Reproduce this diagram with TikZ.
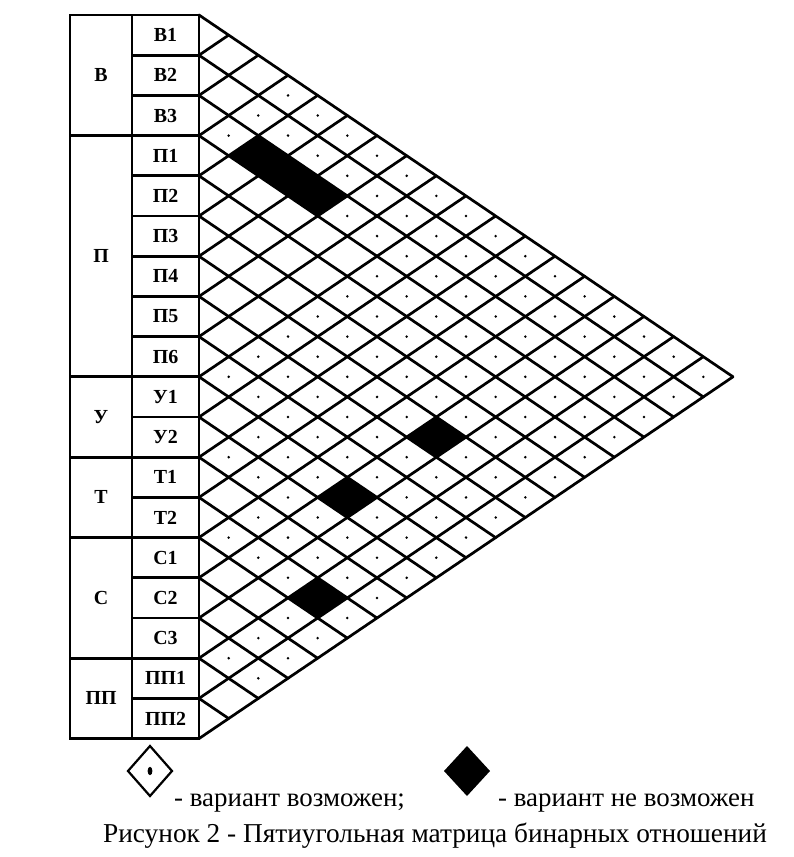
\documentclass[tikz,border=0pt]{standalone}
\usepackage{fontspec}
\setmainfont{Liberation Serif}
\begin{document}
\begin{tikzpicture}[x=1bp,y=-1bp,
  gridline/.style={line width=2.7bp, line cap=round},
  tabline/.style={line width=2.7bp},
  itemlab/.style={font=\fontsize{20}{20}\selectfont\bfseries, inner sep=0pt},
  grouplab/.style={font=\fontsize{20}{20}\selectfont\bfseries, inner sep=0pt},
  legtext/.style={font=\fontsize{27}{27}\selectfont, inner sep=0pt, anchor=base west},
  captext/.style={font=\fontsize{27.4}{27.4}\selectfont, inner sep=0pt, anchor=base west}]
\useasboundingbox (0,0) rectangle (794,857);
\def\grp{{0,0,0,1,1,1,1,1,1,2,2,3,3,4,4,4,5,5}}
% black (impossible) cells
\foreach \i/\j in {2/4,2/5,2/6,6/14,9/14,12/16}
  \fill ({199+(\j-\i)*29.667},{15+(\i+\j+1)*20.1}) +(-29.667,0) -- +(0,-20.1) -- +(29.667,0) -- +(0,20.1) -- cycle;
% dots (possible) cells
\foreach \i in {0,...,16} {
  \pgfmathtruncatemacro\js{\i+1}
  \foreach \j in {\js,...,17} {
    \pgfmathtruncatemacro\dif{\grp[\i]!=\grp[\j]}
    \ifnum\dif=1
      \fill ({199+(\j-\i)*29.667},{15+(\i+\j+1)*20.1}) circle (1.4bp);
    \fi
  }
}
% grid lines
\foreach \k in {0,...,18} {
  \coordinate (b\k) at (199,{15+\k*40.2});
  \draw[gridline] (b\k) -- ++({(18-\k)*29.667},{(18-\k)*20.1});
  \draw[gridline] (b\k) -- ++({\k*29.667},{-\k*20.1});
}
% table
\draw[tabline] (70,15) rectangle (199,738.6);
\draw[tabline] (132,15) -- (132,738.6);
\foreach \k in {1,...,17} \draw[tabline] (132,{15+\k*40.2}) -- (199,{15+\k*40.2});
\foreach \k in {3,9,11,13,16} \draw[tabline] (70,{15+\k*40.2}) -- (132,{15+\k*40.2});
\foreach \t [count=\n from 0] in {В1,В2,В3,П1,П2,П3,П4,П5,П6,У1,У2,Т1,Т2,С1,С2,С3,ПП1,ПП2}
  \node[itemlab] (it\n) at (165.5,{15+\n*40.2+20.1}) {\t};
\foreach \t/\a/\b [count=\n] in {В/0/3,П/3/9,У/9/11,Т/11/13,С/13/16,ПП/16/18}
  \node[grouplab] (g\n) at (101,{15+(\a+\b)*20.1}) {\t};
% legend
\draw[line width=2.2bp, line join=miter] (150,746) -- (172,771) -- (150,796) -- (128,771) -- cycle;
\fill (150,771) ellipse (2.4 and 4.2);
\fill (467,746) -- (490,771) -- (467,796) -- (444,771) -- cycle;
\node[legtext] (leg1) at (174,806) {- вариант возможен;};
\node[legtext] (leg2) at (498,806) {- вариант не возможен};
\node[captext] (cap) at (103,842) {Рисунок 2 - Пятиугольная матрица бинарных отношений};
\end{tikzpicture}
\end{document}
